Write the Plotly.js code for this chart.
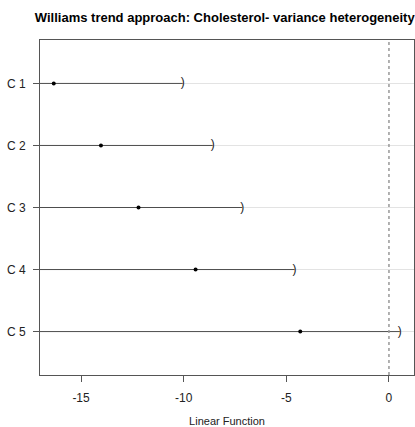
<!DOCTYPE html>
<html>
<head>
<meta charset="utf-8">
<script src="https://cdn.plot.ly/plotly-3.0.1.min.js"></script>
<style>html,body{margin:0;padding:0;background:#fff;}#chart{width:415px;height:427px;}</style>
</head>
<body>
<div id="chart"></div>
<script>
// Data
var categories = ["C 1", "C 2", "C 3", "C 4", "C 5"];
var estimates = [-16.33, -14.03, -12.2, -9.42, -4.32];
var upperBounds = [-10.05, -8.59, -7.15, -4.6, 0.53];
var xTickVals = [-15, -10, -5, 0];
var xTickText = ["-15", "-10", "-5", "0"];
var refValue = 0;

var xRange = [-17.0, 1.22];
var yPos = categories.map(function (c, i) { return i + 1; });

var traces = [];
// one-sided intervals: from left edge (-Inf) to upper bound
categories.forEach(function (c, i) {
  traces.push({
    type: "scatter", mode: "lines",
    x: [xRange[0] - 0.35, upperBounds[i]],
    y: [yPos[i], yPos[i]],
    line: { color: "#4d4d4d", width: 1 },
    hoverinfo: "skip", showlegend: false, cliponaxis: false
  });
});
// right bracket markers
traces.push({
  type: "scatter", mode: "text",
  x: upperBounds, y: yPos,
  text: upperBounds.map(function () { return ")"; }),
  textposition: "middle center",
  textfont: { family: "Liberation Sans, Arial, sans-serif", size: 12, color: "#222" },
  hoverinfo: "skip", showlegend: false
});
// point estimates
traces.push({
  type: "scatter", mode: "markers",
  x: estimates, y: yPos,
  marker: { color: "#000", size: 4 },
  hoverinfo: "skip", showlegend: false
});

var layout = {
  width: 415, height: 427,
  margin: { l: 39.5, r: 1, t: 40, b: 52 },
  paper_bgcolor: "#fff", plot_bgcolor: "#fff",
  font: { family: "Liberation Sans, Arial, sans-serif", size: 12, color: "#222" },
  title: {
    text: "<b>Williams trend approach: Cholesterol- variance heterogeneity</b>",
    font: { family: "Liberation Sans, Arial, sans-serif", size: 13, color: "#000" },
    x: 0.5416, xanchor: "center", y: 0.96, yanchor: "middle"
  },
  xaxis: {
    range: xRange, tickmode: "array", tickvals: xTickVals, ticktext: xTickText,
    ticks: "outside", ticklen: 6, tickcolor: "#555", tickwidth: 1,
    ticklabelstandoff: 6,
    showgrid: false, zeroline: false,
    showline: true, linecolor: "#555", linewidth: 1, mirror: true,
    tickfont: { size: 12, color: "#222" },
    title: { text: "Linear Function", font: { size: 11, color: "#222" }, standoff: 16 }
  },
  yaxis: {
    range: [5.7, 0.3], tickmode: "array", tickvals: yPos, ticktext: categories,
    ticks: "outside", ticklen: 6, tickcolor: "#555", tickwidth: 1,
    ticklabelstandoff: 5,
    showgrid: true, gridcolor: "#e3e3e3", gridwidth: 1,
    zeroline: false,
    showline: true, linecolor: "#555", linewidth: 1, mirror: true,
    tickfont: { size: 12, color: "#222" }
  },
  shapes: [{
    type: "line", xref: "x", yref: "paper",
    x0: refValue, x1: refValue, y0: 0, y1: 1,
    line: { color: "#999", width: 1.5, dash: "dot" }
  }]
};

Plotly.newPlot("chart", traces, layout, { displayModeBar: false, staticPlot: true });
</script>
</body>
</html>
